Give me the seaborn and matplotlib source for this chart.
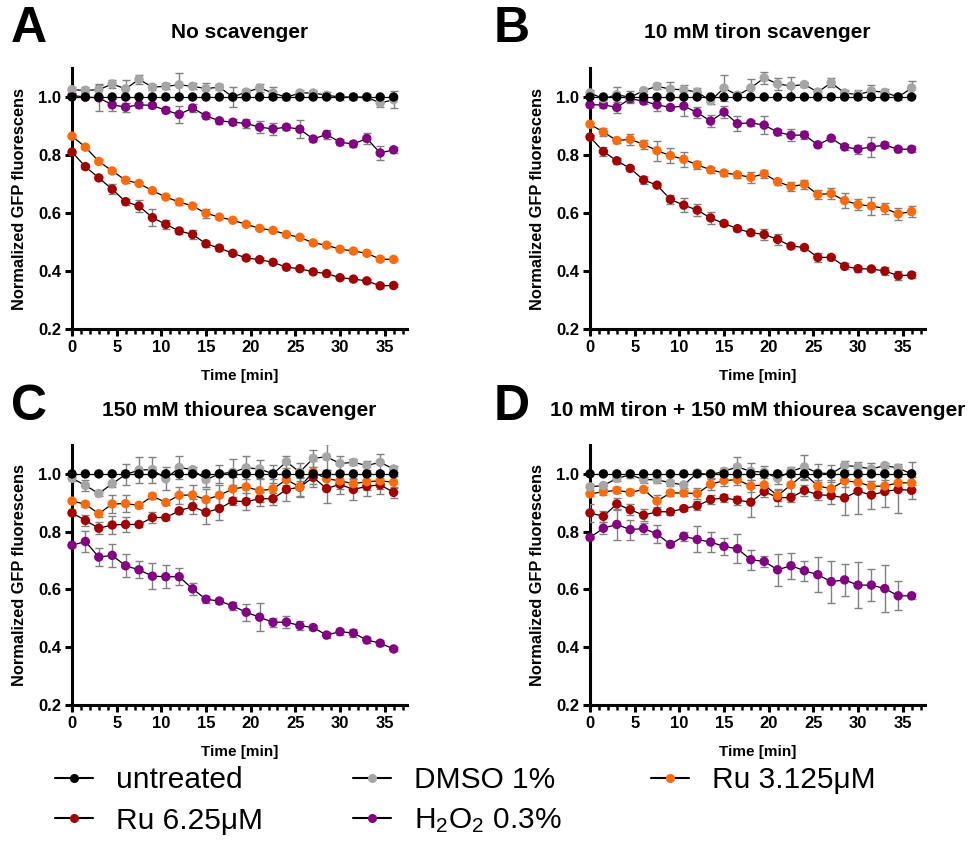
import matplotlib
matplotlib.use("Agg")
import numpy as np
import pandas as pd
import matplotlib.pyplot as plt
import seaborn as sns
from matplotlib.lines import Line2D
from matplotlib.ticker import MultipleLocator

# ---------------------------------------------------------------- data
time_min = [0, 1.5, 3, 4.5, 6, 7.5, 9, 10.5, 12, 13.5, 15, 16.5, 18,
            19.5, 21, 22.5, 24, 25.5, 27, 28.5, 30, 31.5, 33, 34.5, 36]

series_names = ["untreated", "DMSO 1%", "Ru 3.125μM", "Ru 6.25μM", "H2O2 0.3%"]
series_colors = ["#000000", "#a6a6a6", "#ff6a0a", "#a50000", "#850085"]

untreated = [1.0, 1.0, 1.0, 1.0, 1.0, 1.0, 1.0, 1.0, 1.0, 1.0, 1.0, 1.0, 1.0,
             1.0, 1.0, 1.0, 1.0, 1.0, 1.0, 1.0, 1.0, 1.0, 1.0, 1.0, 1.0]
untreated_err = [0, 0, 0, 0, 0, 0, 0, 0, 0, 0, 0, 0, 0,
                 0, 0, 0, 0, 0, 0, 0, 0, 0, 0, 0, 0]

# A: no scavenger
a_dmso = [1.025, 1.023, 1.025, 1.045, 1.028, 1.061, 1.034, 1.037, 1.042, 1.037, 1.029, 1.034, 1.0,
          1.017, 1.031, 1.014, 0.999, 1.014, 1.014, 1.006, 1.0, 1.0, 1.0, 0.979, 0.991]
a_dmso_err = [0.01, 0.01, 0.02, 0.015, 0.03, 0.015, 0.01, 0.01, 0.04, 0.01, 0.02, 0.01, 0.035,
              0.01, 0.015, 0.02, 0.01, 0.01, 0.01, 0.01, 0.01, 0.01, 0.01, 0.015, 0.03]
a_ru3 = [0.865, 0.827, 0.778, 0.745, 0.713, 0.702, 0.677, 0.655, 0.638, 0.624, 0.599, 0.586, 0.575,
         0.561, 0.547, 0.540, 0.526, 0.516, 0.497, 0.489, 0.475, 0.469, 0.461, 0.441, 0.440]
a_ru3_err = [0.005, 0.005, 0.008, 0.008, 0.008, 0.006, 0.006, 0.006, 0.01, 0.008, 0.015, 0.008, 0.006,
             0.006, 0.006, 0.006, 0.006, 0.006, 0.006, 0.006, 0.006, 0.006, 0.006, 0.006, 0.006]
a_ru6 = [0.810, 0.760, 0.721, 0.682, 0.639, 0.624, 0.584, 0.561, 0.538, 0.526, 0.494, 0.479, 0.461,
         0.445, 0.439, 0.430, 0.413, 0.408, 0.397, 0.391, 0.377, 0.372, 0.366, 0.349, 0.350]
a_ru6_err = [0.005, 0.008, 0.008, 0.018, 0.01, 0.022, 0.03, 0.015, 0.012, 0.015, 0.01, 0.01, 0.006,
             0.006, 0.006, 0.006, 0.006, 0.006, 0.006, 0.006, 0.006, 0.006, 0.006, 0.006, 0.006]
a_h2o2 = [1.005, 1.0, 0.997, 0.973, 0.965, 0.973, 0.971, 0.954, 0.940, 0.962, 0.935, 0.918, 0.913,
          0.909, 0.896, 0.890, 0.896, 0.889, 0.855, 0.871, 0.844, 0.838, 0.857, 0.807, 0.818]
a_h2o2_err = [0.005, 0.005, 0.045, 0.02, 0.015, 0.01, 0.01, 0.01, 0.03, 0.015, 0.01, 0.01, 0.01,
              0.015, 0.02, 0.02, 0.01, 0.03, 0.01, 0.015, 0.01, 0.01, 0.02, 0.025, 0.01]

# B: 10 mM tiron
b_dmso = [1.014, 0.994, 1.008, 0.999, 1.022, 1.037, 1.027, 1.025, 1.017, 0.987, 1.031, 1.006, 1.031,
          1.066, 1.045, 1.038, 1.043, 1.017, 1.049, 1.014, 1.008, 1.021, 1.016, 1.0, 1.031]
b_dmso_err = [0.01, 0.01, 0.025, 0.02, 0.01, 0.01, 0.025, 0.015, 0.015, 0.01, 0.045, 0.01, 0.03,
              0.02, 0.02, 0.03, 0.01, 0.01, 0.015, 0.01, 0.015, 0.02, 0.01, 0.01, 0.025]
b_ru3 = [0.906, 0.879, 0.850, 0.854, 0.837, 0.815, 0.798, 0.785, 0.766, 0.749, 0.738, 0.732, 0.723,
         0.735, 0.708, 0.691, 0.699, 0.664, 0.667, 0.643, 0.629, 0.624, 0.616, 0.597, 0.605]
b_ru3_err = [0.008, 0.015, 0.01, 0.02, 0.015, 0.035, 0.025, 0.025, 0.015, 0.01, 0.01, 0.01, 0.02,
             0.015, 0.01, 0.015, 0.015, 0.015, 0.02, 0.025, 0.02, 0.03, 0.02, 0.02, 0.02]
b_ru6 = [0.862, 0.812, 0.780, 0.754, 0.714, 0.696, 0.647, 0.627, 0.610, 0.583, 0.564, 0.546, 0.532,
         0.526, 0.509, 0.486, 0.481, 0.447, 0.447, 0.416, 0.408, 0.407, 0.400, 0.384, 0.386]
b_ru6_err = [0.008, 0.015, 0.01, 0.008, 0.015, 0.008, 0.015, 0.025, 0.02, 0.02, 0.01, 0.008, 0.008,
             0.02, 0.02, 0.008, 0.008, 0.015, 0.008, 0.01, 0.01, 0.008, 0.015, 0.015, 0.01]
b_h2o2 = [0.973, 0.973, 0.964, 0.994, 0.986, 0.973, 0.964, 0.969, 0.946, 0.917, 0.948, 0.908, 0.911,
          0.903, 0.879, 0.868, 0.869, 0.835, 0.858, 0.828, 0.820, 0.828, 0.834, 0.820, 0.820]
b_h2o2_err = [0.008, 0.01, 0.02, 0.01, 0.01, 0.02, 0.01, 0.035, 0.02, 0.02, 0.02, 0.025, 0.01,
              0.03, 0.01, 0.02, 0.015, 0.008, 0.008, 0.01, 0.015, 0.035, 0.01, 0.008, 0.01]

# C: 150 mM thiourea
c_dmso = [0.985, 0.960, 0.932, 0.966, 0.998, 1.013, 1.015, 0.983, 1.022, 1.015, 0.980, 1.0, 1.006,
          1.021, 1.017, 1.0, 1.042, 1.006, 1.054, 1.059, 1.036, 1.040, 1.029, 1.040, 1.017]
c_dmso_err = [0.01, 0.02, 0.01, 0.01, 0.035, 0.045, 0.045, 0.04, 0.04, 0.01, 0.025, 0.03, 0.045,
              0.04, 0.03, 0.03, 0.02, 0.03, 0.03, 0.045, 0.025, 0.01, 0.015, 0.03, 0.01]
c_ru3 = [0.906, 0.895, 0.862, 0.896, 0.897, 0.891, 0.923, 0.901, 0.926, 0.927, 0.911, 0.926, 0.948,
         0.955, 0.942, 0.948, 0.980, 0.955, 1.006, 0.983, 0.976, 0.966, 0.973, 0.976, 0.971]
c_ru3_err = [0.008, 0.01, 0.01, 0.03, 0.03, 0.01, 0.01, 0.01, 0.03, 0.035, 0.035, 0.035, 0.04,
             0.04, 0.04, 0.035, 0.02, 0.03, 0.04, 0.03, 0.03, 0.02, 0.03, 0.03, 0.02]
c_ru6 = [0.865, 0.839, 0.812, 0.823, 0.825, 0.825, 0.849, 0.849, 0.872, 0.887, 0.867, 0.880, 0.906,
         0.904, 0.914, 0.914, 0.946, 0.954, 0.988, 0.949, 0.964, 0.946, 0.957, 0.962, 0.936]
c_ru6_err = [0.01, 0.02, 0.02, 0.03, 0.025, 0.01, 0.02, 0.01, 0.01, 0.025, 0.04, 0.04, 0.015,
             0.03, 0.025, 0.02, 0.04, 0.035, 0.035, 0.05, 0.035, 0.035, 0.035, 0.03, 0.02]
c_h2o2 = [0.753, 0.766, 0.712, 0.718, 0.682, 0.668, 0.646, 0.644, 0.644, 0.602, 0.566, 0.560, 0.543,
          0.521, 0.504, 0.486, 0.487, 0.475, 0.468, 0.442, 0.454, 0.449, 0.425, 0.414, 0.394]
c_h2o2_err = [0.005, 0.035, 0.03, 0.04, 0.04, 0.03, 0.045, 0.04, 0.03, 0.02, 0.012, 0.01, 0.015,
              0.03, 0.048, 0.015, 0.02, 0.015, 0.01, 0.01, 0.01, 0.015, 0.01, 0.01, 0.008]

# D: 10 mM tiron + 150 mM thiourea
d_dmso = [0.955, 0.960, 0.984, 0.997, 0.980, 0.980, 0.969, 0.962, 1.003, 0.997, 1.009, 1.024, 1.009,
          1.006, 0.985, 1.009, 1.024, 1.003, 1.001, 1.029, 1.025, 1.017, 1.029, 1.020, 1.0]
d_dmso_err = [0.01, 0.01, 0.01, 0.01, 0.01, 0.01, 0.01, 0.01, 0.01, 0.01, 0.01, 0.035, 0.03,
              0.02, 0.02, 0.015, 0.04, 0.03, 0.03, 0.015, 0.015, 0.02, 0.01, 0.015, 0.04]
d_ru3 = [0.931, 0.938, 0.943, 0.936, 0.946, 0.906, 0.934, 0.934, 0.932, 0.964, 0.977, 0.980, 0.958,
         0.962, 0.925, 0.962, 1.0, 0.958, 0.949, 0.976, 0.971, 0.957, 0.958, 0.969, 0.969]
d_ru3_err = [0.008, 0.01, 0.01, 0.01, 0.01, 0.02, 0.01, 0.01, 0.02, 0.02, 0.02, 0.02, 0.02,
             0.03, 0.02, 0.03, 0.02, 0.02, 0.03, 0.02, 0.02, 0.02, 0.02, 0.02, 0.02]
d_ru6 = [0.865, 0.853, 0.896, 0.876, 0.857, 0.869, 0.869, 0.880, 0.890, 0.911, 0.917, 0.909, 0.902,
         0.939, 0.918, 0.918, 0.943, 0.928, 0.925, 0.917, 0.940, 0.927, 0.939, 0.946, 0.943]
d_ru6_err = [0.03, 0.02, 0.02, 0.02, 0.02, 0.01, 0.01, 0.01, 0.015, 0.015, 0.015, 0.015, 0.05,
             0.02, 0.03, 0.015, 0.02, 0.02, 0.03, 0.06, 0.08, 0.05, 0.055, 0.08, 0.03]
d_h2o2 = [0.780, 0.812, 0.825, 0.807, 0.811, 0.792, 0.756, 0.784, 0.773, 0.764, 0.749, 0.741, 0.703,
          0.697, 0.668, 0.682, 0.665, 0.651, 0.627, 0.633, 0.615, 0.615, 0.603, 0.578, 0.578]
d_h2o2_err = [0.005, 0.02, 0.055, 0.035, 0.02, 0.03, 0.01, 0.015, 0.045, 0.035, 0.03, 0.05, 0.035,
              0.02, 0.055, 0.045, 0.035, 0.06, 0.073, 0.055, 0.08, 0.055, 0.08, 0.05, 0.01]

panel_letters = ["A", "B", "C", "D"]
panel_titles = ["No scavenger", "10 mM tiron scavenger",
                "150 mM thiourea scavenger", "10 mM tiron + 150 mM thiourea scavenger"]
panel_values = [
    [untreated, a_dmso, a_ru3, a_ru6, a_h2o2],
    [untreated, b_dmso, b_ru3, b_ru6, b_h2o2],
    [untreated, c_dmso, c_ru3, c_ru6, c_h2o2],
    [untreated, d_dmso, d_ru3, d_ru6, d_h2o2],
]
panel_errors = [
    [untreated_err, a_dmso_err, a_ru3_err, a_ru6_err, a_h2o2_err],
    [untreated_err, b_dmso_err, b_ru3_err, b_ru6_err, b_h2o2_err],
    [untreated_err, c_dmso_err, c_ru3_err, c_ru6_err, c_h2o2_err],
    [untreated_err, d_dmso_err, d_ru3_err, d_ru6_err, d_h2o2_err],
]
x_ticks = [0, 5, 10, 15, 20, 25, 30, 35]
y_ticks = [0.2, 0.4, 0.6, 0.8, 1.0]
y_tick_labels = ["0.2", "0.4", "0.6", "0.8", "1.0"]

# ---------------------------------------------------------------- style
sns.set_theme(style="ticks")
plt.rcParams["font.family"] = ["Liberation Sans", "DejaVu Sans"]
plt.rcParams["mathtext.fontset"] = "custom"
plt.rcParams["mathtext.rm"] = "Liberation Sans"
plt.rcParams["mathtext.default"] = "rm"
for key in ["text.color", "axes.labelcolor", "xtick.color", "ytick.color",
            "axes.edgecolor"]:
    plt.rcParams[key] = "black"

W, H = 969, 843
fig = plt.figure(figsize=(W / 100, H / 100), dpi=100)
fig.patch.set_facecolor("white")


def px_rect(left, top, right, bottom):
    return [left / W, 1 - bottom / H, (right - left) / W, (bottom - top) / H]


boxes = [(72, 68, 407, 329), (590, 68, 925, 329),
         (72, 445, 407, 705), (590, 445, 925, 705)]
palette = dict(zip(series_names, series_colors))
draw_order = ["H2O2 0.3%", "Ru 6.25μM", "Ru 3.125μM", "DMSO 1%", "untreated"]

for k in range(4):
    l, t, r, b = boxes[k]
    ax = fig.add_axes(px_rect(l, t, r, b))
    ax.set_facecolor("white")

    frames = []
    for name, vals, errs in zip(series_names, panel_values[k], panel_errors[k]):
        frames.append(pd.DataFrame({"time": time_min, "value": vals,
                                    "err": errs, "series": name}))
    df = pd.concat(frames, ignore_index=True)
    df["series"] = pd.Categorical(df["series"], categories=draw_order, ordered=True)
    df = df.sort_values(["series", "time"]).reset_index(drop=True)
    df["series"] = df["series"].astype(str)

    # connecting lines
    sns.lineplot(data=df, x="time", y="value", units="series", estimator=None,
                 color="black", linewidth=0.9, ax=ax, zorder=2, legend=False)
    # SD bars
    for name in draw_order:
        sub = df[df["series"] == name]
        if sub["err"].sum() == 0:
            continue
        ax.errorbar(sub["time"], sub["value"], yerr=sub["err"], fmt="none",
                    ecolor="#808080", elinewidth=1.0, capsize=2.8, capthick=1.0,
                    zorder=3)
    # mean markers
    sns.scatterplot(data=df, x="time", y="value", hue="series", palette=palette,
                    s=46, edgecolor="none", linewidth=0, legend=False, ax=ax,
                    zorder=4, clip_on=False)

    ax.set_xlim(0, 37.5)
    ax.set_ylim(0.2, 1.1)
    ax.set_xticks(x_ticks)
    ax.xaxis.set_minor_locator(MultipleLocator(1))
    ax.set_yticks(y_ticks)
    ax.set_yticklabels(y_tick_labels)
    for s in ["top", "right"]:
        ax.spines[s].set_visible(False)
    for s in ["left", "bottom"]:
        ax.spines[s].set_linewidth(2.2)
        ax.spines[s].set_color("black")
    ax.tick_params(axis="both", which="major", direction="out", length=5,
                   width=2.2, color="black", labelcolor="black", labelsize=12, pad=3)
    ax.tick_params(axis="x", which="minor", direction="out", length=3.5,
                   width=1.8, color="black")
    for lab in ax.get_xticklabels() + ax.get_yticklabels():
        lab.set_fontweight("bold")

    ax.set_xlabel("Time [min]", fontsize=11, fontweight="bold", color="black")
    ax.xaxis.set_label_coords(0.5, -0.155)
    ax.set_ylabel("Normalized GFP fluorescens", fontsize=11.8, fontweight="bold",
                  color="black")
    ax.yaxis.set_label_coords(-0.134, 0.5)

    cx = (l + r) / 2
    title_y = 33 if k < 2 else 410
    fig.text(cx / W, 1 - title_y / H, panel_titles[k], ha="center", va="center",
             fontsize=15, fontweight="bold", color="black")
    letter_x = 11 if k % 2 == 0 else 494
    letter_y = 29 if k < 2 else 407
    fig.text(letter_x / W, 1 - letter_y / H, panel_letters[k], ha="left",
             va="center", fontsize=36, fontweight="bold", color="black")

# ---------------------------------------------------------------- legend
legend_labels = {"untreated": "untreated", "DMSO 1%": "DMSO 1%",
                 "Ru 3.125μM": "Ru 3.125μM", "Ru 6.25μM": "Ru 6.25μM",
                 "H2O2 0.3%": "H$_2$O$_2$ 0.3%"}
legend_order = ["untreated", "Ru 6.25μM", "DMSO 1%", "H2O2 0.3%", "Ru 3.125μM"]
handles = [Line2D([0], [0], color="black", linewidth=1.5, marker="o",
                  markersize=5.5, markerfacecolor=palette[n],
                  markeredgecolor=palette[n]) for n in legend_order]
leg = fig.legend(handles, [legend_labels[n] for n in legend_order], ncol=3,
                 loc="upper left", bbox_to_anchor=(55 / W, 1 - 766 / H),
                 frameon=False, fontsize=21.5, handlelength=1.28, handletextpad=0.77,
                 columnspacing=3.0, labelspacing=0.42, borderpad=0, borderaxespad=0)
for txt in leg.get_texts():
    txt.set_color("black")

fig.savefig("out.png", dpi=100, facecolor="white")
